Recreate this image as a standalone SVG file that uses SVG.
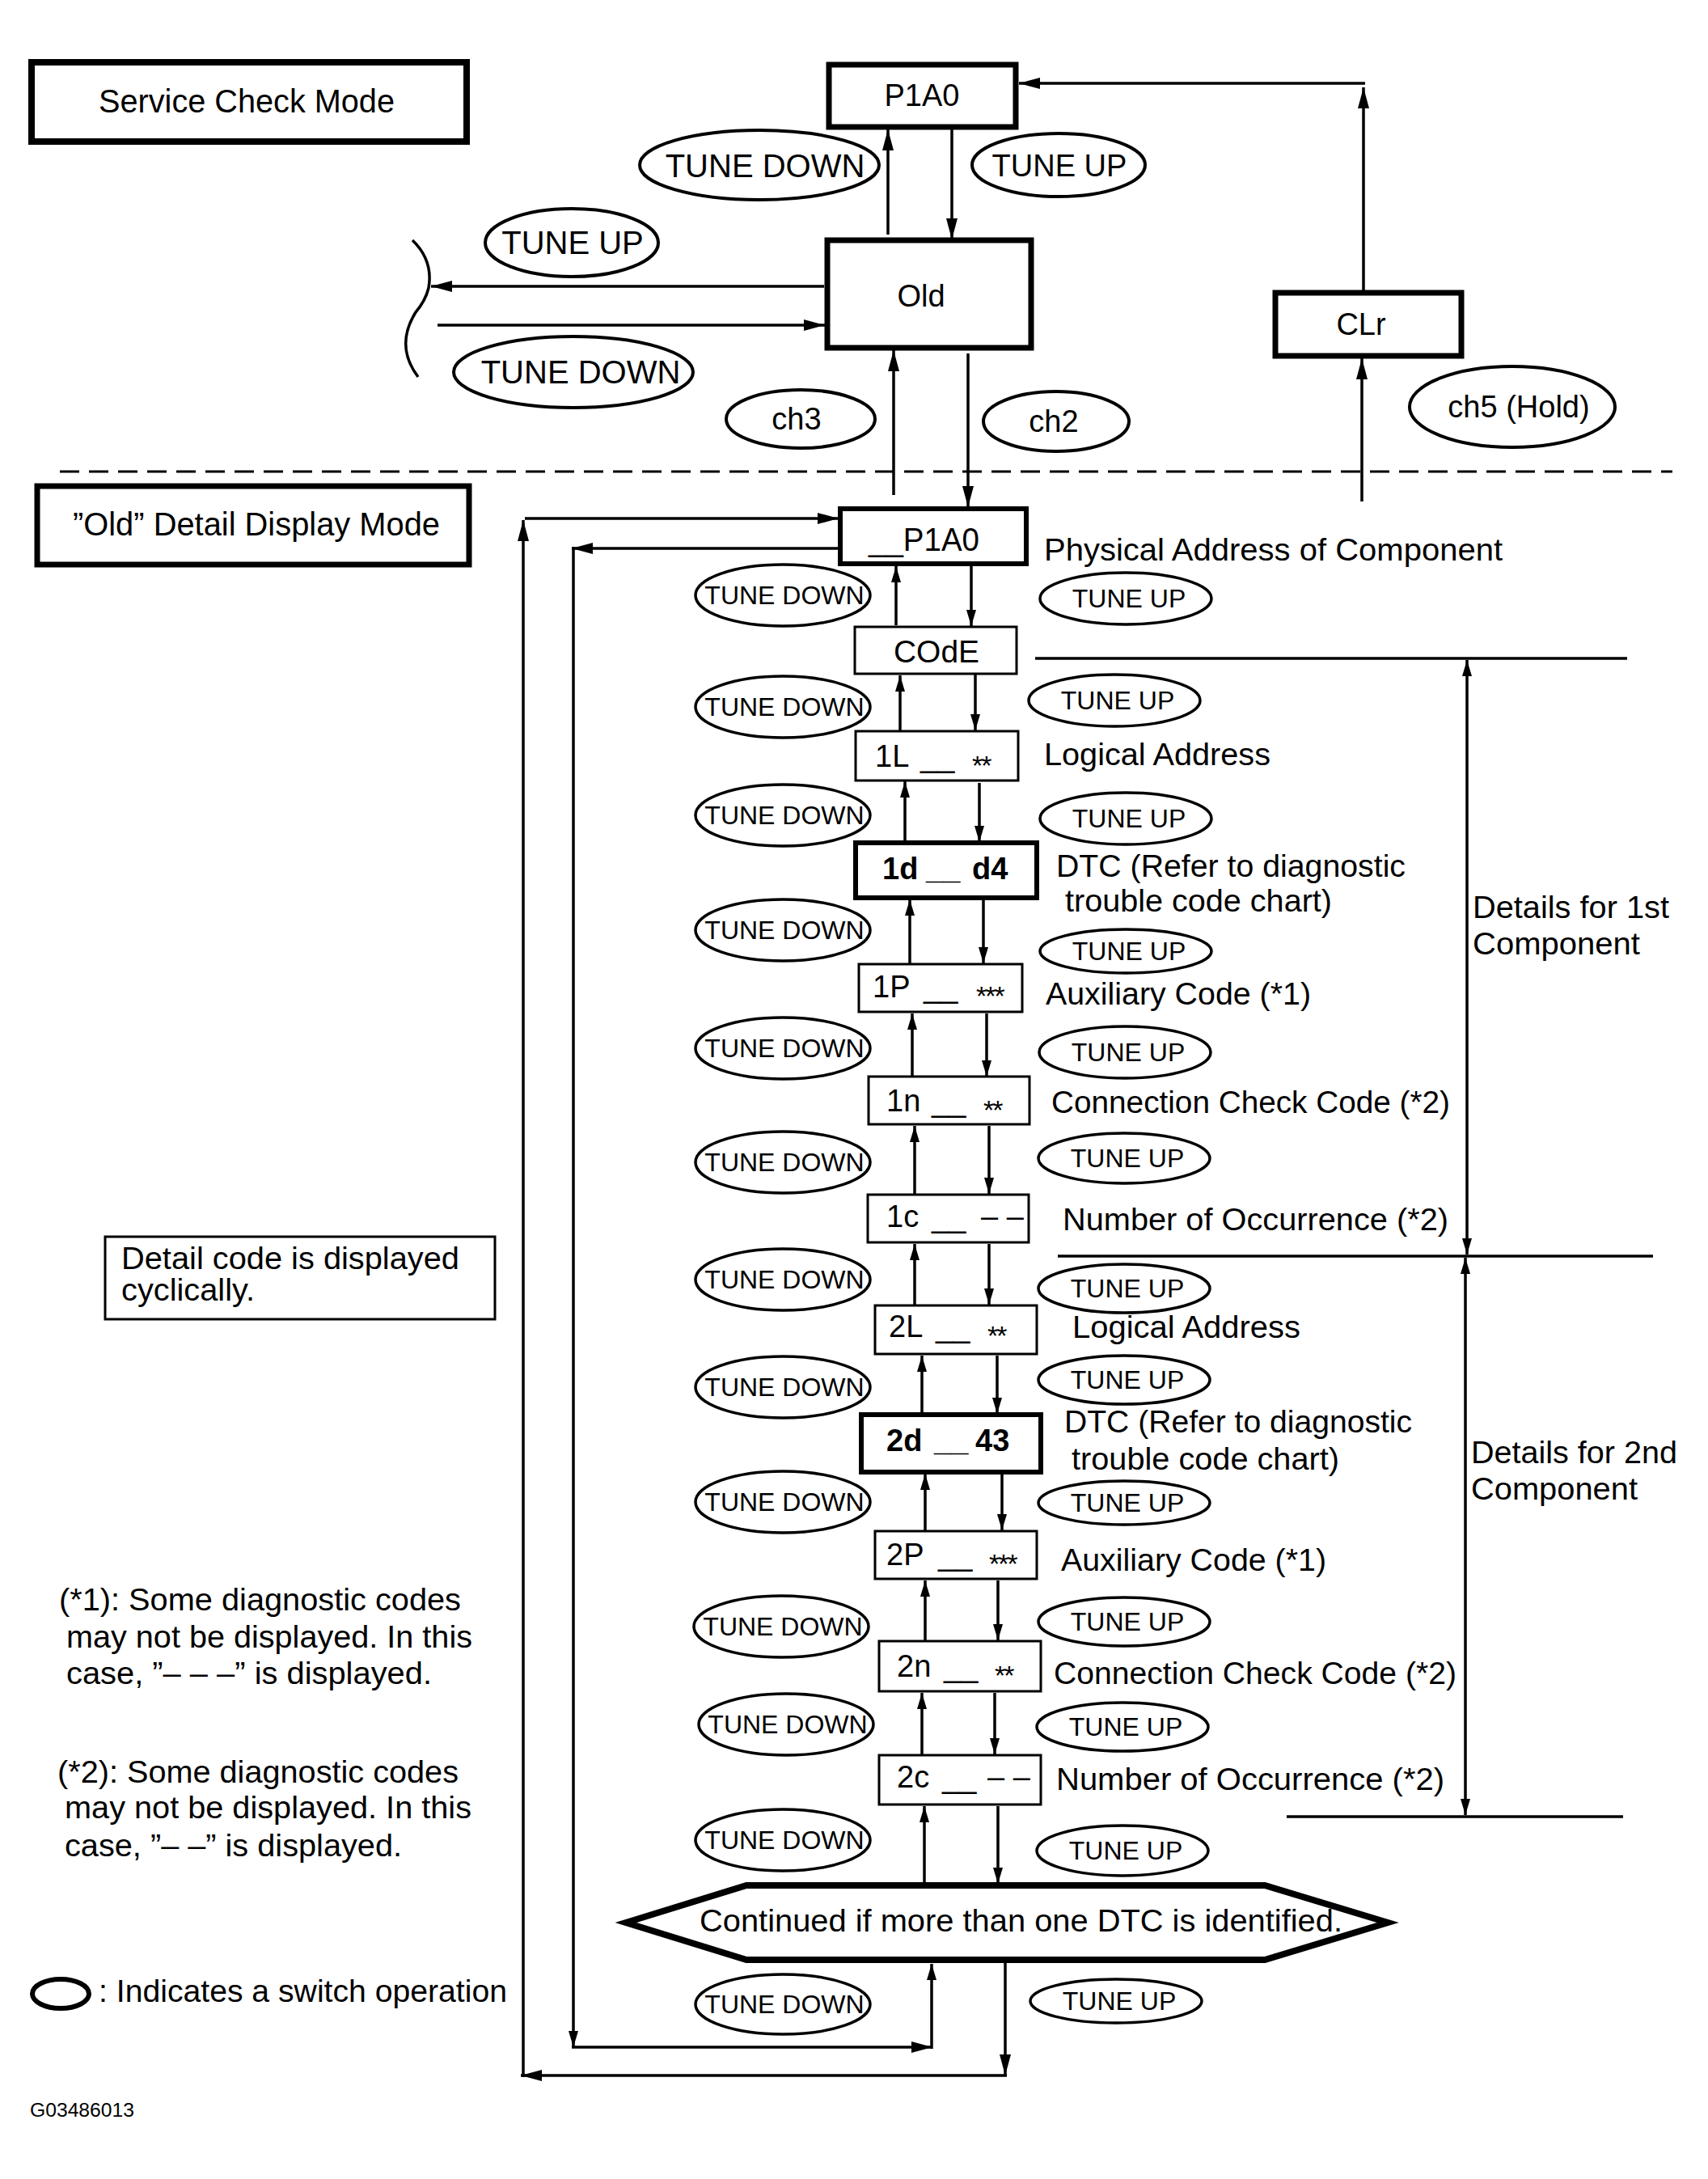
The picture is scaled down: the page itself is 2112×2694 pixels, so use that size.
<svg xmlns="http://www.w3.org/2000/svg" width="2112" height="2694" viewBox="0 0 2112 2694">
<style>
text{font-family:"Liberation Sans",Arial,Helvetica,sans-serif;fill:#000}
.bk{fill:#fff;stroke:#000;stroke-width:7}
.bm{fill:#fff;stroke:#000;stroke-width:6}
.bt{fill:#fff;stroke:#000;stroke-width:3}
.el{fill:#fff;stroke:#000;stroke-width:4}
.es{fill:#fff;stroke:#000;stroke-width:3.5}
.ln{fill:none;stroke:#000;stroke-width:3.5}
.a{marker-end:url(#ah)}
.A{marker-end:url(#AH)}
.f40{font-size:40px}
.f38{font-size:38px}
.f32{font-size:32px}
.lbl{font-size:38px}
.ast{font-size:34px;letter-spacing:-2px}
.bold{font-weight:bold}
.mid{text-anchor:middle}
</style>
<defs>
<marker id="ah" viewBox="0 0 20 12" refX="20" refY="6" markerWidth="20" markerHeight="12" markerUnits="userSpaceOnUse" orient="auto"><path d="M0,0 L20,6 L0,12 Z" fill="#000"/></marker>
<marker id="AH" viewBox="0 0 26 14" refX="26" refY="7" markerWidth="26" markerHeight="14" markerUnits="userSpaceOnUse" orient="auto"><path d="M0,0 L26,7 L0,14 Z" fill="#000"/></marker>
</defs>
<rect width="2112" height="2694" fill="#fff"/>

<!-- mode headings -->
<g id="service-check-mode">
<rect class="bk" x="39" y="77" width="538" height="98" style="stroke-width:8"/>
<text class="f40 mid" x="305" y="139" textLength="366" lengthAdjust="spacingAndGlyphs">Service Check Mode</text>
</g>
<g id="detail-display-mode">
<rect class="bk" x="46" y="601" width="534" height="97"/>
<text class="f40" x="90" y="662" textLength="454" lengthAdjust="spacingAndGlyphs">”Old” Detail Display Mode</text>
</g>

<!-- connectors -->
<g id="connectors">
<line class="ln A" x1="1098" y1="290" x2="1098" y2="160"/>
<line class="ln A" x1="1177" y1="157" x2="1177" y2="296"/>
<line class="ln A" x1="1019" y1="354" x2="533" y2="354"/>
<line class="ln A" x1="541" y1="402" x2="1020" y2="402"/>
<line class="ln A" x1="1197" y1="437" x2="1197" y2="627"/>
<line class="ln A" x1="1105" y1="612" x2="1105" y2="433"/>
<line class="ln A" x1="1684" y1="620" x2="1684" y2="443"/>
<line class="ln A" x1="1686" y1="362" x2="1686" y2="108"/>
<line class="ln A" x1="1688" y1="103" x2="1260" y2="103"/>
<path class="ln" d="M510 297 Q536 322 530 356 Q526 372 514 386 Q488 428 517 466"/>
<line x1="74" y1="583" x2="2068" y2="583" stroke="#000" stroke-width="3" stroke-dasharray="24 12"/>

<!-- outer loop -->
<line class="ln A" x1="1243" y1="2426" x2="1243" y2="2566"/>
<line class="ln A" x1="1245" y1="2566" x2="644" y2="2566"/>
<line class="ln A" x1="647" y1="2568" x2="647" y2="643"/>
<line class="ln A" x1="649" y1="641" x2="1037" y2="641"/>
<!-- inner loop -->
<line class="ln A" x1="1037" y1="678" x2="707" y2="678"/>
<line class="ln a" x1="709" y1="676" x2="709" y2="2531"/>
<line class="ln A" x1="707" y1="2531" x2="1153" y2="2531"/>
<line class="ln a" x1="1152" y1="2533" x2="1152" y2="2428"/>

<!-- chain -->
<line class="ln a" x1="1108" y1="773" x2="1108" y2="700"/>
<line class="ln a" x1="1201" y1="700" x2="1201" y2="774"/>
<line class="ln a" x1="1113" y1="903" x2="1113" y2="835"/>
<line class="ln a" x1="1206" y1="834" x2="1206" y2="903"/>
<line class="ln a" x1="1119" y1="1041" x2="1119" y2="966"/>
<line class="ln a" x1="1211" y1="968" x2="1211" y2="1041"/>
<line class="ln a" x1="1125" y1="1191" x2="1125" y2="1112"/>
<line class="ln a" x1="1216" y1="1112" x2="1216" y2="1191"/>
<line class="ln a" x1="1128" y1="1331" x2="1128" y2="1253"/>
<line class="ln a" x1="1220" y1="1253" x2="1220" y2="1331"/>
<line class="ln a" x1="1131" y1="1476" x2="1131" y2="1392"/>
<line class="ln a" x1="1223" y1="1392" x2="1223" y2="1476"/>
<line class="ln a" x1="1131" y1="1613" x2="1131" y2="1538"/>
<line class="ln a" x1="1223" y1="1538" x2="1223" y2="1613"/>
<line class="ln a" x1="1140" y1="1748" x2="1140" y2="1676"/>
<line class="ln a" x1="1233" y1="1676" x2="1233" y2="1748"/>
<line class="ln a" x1="1144" y1="1892" x2="1144" y2="1822"/>
<line class="ln a" x1="1239" y1="1822" x2="1239" y2="1892"/>
<line class="ln a" x1="1144" y1="2028" x2="1144" y2="1954"/>
<line class="ln a" x1="1234" y1="1954" x2="1234" y2="2028"/>
<line class="ln a" x1="1140" y1="2169" x2="1140" y2="2093"/>
<line class="ln a" x1="1230" y1="2093" x2="1230" y2="2169"/>
<line class="ln a" x1="1143" y1="2329" x2="1143" y2="2233"/>
<line class="ln a" x1="1234" y1="2233" x2="1234" y2="2329"/>

<!-- component brackets -->
<line class="ln" x1="1280" y1="814" x2="2012" y2="814"/>
<line class="ln a" x1="1814" y1="1180" x2="1814" y2="816"/>
<line class="ln a" x1="1814" y1="1180" x2="1814" y2="1551"/>
<line class="ln" x1="1308" y1="1553" x2="2044" y2="1553"/>
<line class="ln a" x1="1812" y1="1900" x2="1812" y2="1555"/>
<line class="ln a" x1="1812" y1="1900" x2="1812" y2="2244"/>
<line class="ln" x1="1591" y1="2246" x2="2007" y2="2246"/>
</g>

<!-- top nodes -->
<g id="node-p1a0">
<rect class="bk" x="1025" y="80" width="231" height="77"/>
<text class="f38 mid" x="1140" y="131">P1A0</text>
</g>
<g id="node-old">
<rect class="bk" x="1023" y="297" width="252" height="133"/>
<text class="f38 mid" x="1139" y="379">Old</text>
</g>
<g id="node-clr">
<rect class="bk" x="1577" y="362" width="230" height="78"/>
<text class="f38 mid" x="1683" y="414">CLr</text>
</g>
<g id="op-top-tune-down">
<ellipse class="el" cx="939" cy="204" rx="148" ry="43"/>
<text class="f40 mid" x="946" y="219">TUNE DOWN</text>
</g>
<g id="op-top-tune-up">
<ellipse class="el" cx="1309" cy="204" rx="107" ry="39"/>
<text class="f38 mid" x="1310" y="218">TUNE UP</text>
</g>
<g id="op-left-tune-up">
<ellipse class="el" cx="707" cy="300" rx="107" ry="42"/>
<text class="f40 mid" x="708" y="314">TUNE UP</text>
</g>
<g id="op-left-tune-down">
<ellipse class="el" cx="709" cy="460" rx="148" ry="44"/>
<text class="f40 mid" x="718" y="474">TUNE DOWN</text>
</g>
<g id="op-ch3">
<ellipse class="el" cx="990" cy="518" rx="92" ry="36"/>
<text class="f38 mid" x="985" y="531">ch3</text>
</g>
<g id="op-ch2">
<ellipse class="el" cx="1306" cy="521" rx="90" ry="37"/>
<text class="f38 mid" x="1303" y="534">ch2</text>
</g>
<g id="op-ch5">
<ellipse class="el" cx="1870" cy="503" rx="127" ry="50"/>
<text class="f38 mid" x="1878" y="516">ch5 (Hold)</text>
</g>

<!-- detail chain nodes -->
<g id="node-p1a0-detail">
<rect class="bm" x="1039" y="629" width="230" height="68"/>
<text class="f40" x="1074" y="681" textLength="137" lengthAdjust="spacingAndGlyphs">__P1A0</text>
<text class="f38" x="1291" y="693" textLength="567" lengthAdjust="spacingAndGlyphs">Physical Address of Component</text>
</g>
<g id="node-code">
<rect class="bt" x="1057" y="775" width="200" height="58"/>
<text class="f38" x="1105" y="819" textLength="106" lengthAdjust="spacingAndGlyphs">COdE</text>
</g>
<g id="node-1l">
<rect class="bt" x="1058" y="904" width="201" height="61"/>
<text class="lbl" y="948"><tspan x="1082">1L</tspan><tspan x="1138">__</tspan><tspan class="ast" x="1202" dy="10">**</tspan></text>
<text class="f38" x="1291" y="946" textLength="280" lengthAdjust="spacingAndGlyphs">Logical Address</text>
</g>
<g id="node-1d">
<rect class="bm" x="1058" y="1042" width="224" height="68"/>
<text class="lbl bold" y="1087"><tspan x="1091">1d</tspan><tspan x="1145">__</tspan><tspan x="1202">d4</tspan></text>
<text class="f38" x="1306" y="1084" textLength="432" lengthAdjust="spacingAndGlyphs">DTC (Refer to diagnostic</text>
<text class="f38" x="1317" y="1127" textLength="330" lengthAdjust="spacingAndGlyphs">trouble code chart)</text>
</g>
<g id="node-1p">
<rect class="bt" x="1062" y="1192" width="202" height="59"/>
<text class="lbl" y="1233"><tspan x="1079">1P</tspan><tspan x="1142">__</tspan><tspan class="ast" x="1207" dy="10">***</tspan></text>
<text class="f38" x="1293" y="1242" textLength="328" lengthAdjust="spacingAndGlyphs">Auxiliary Code (*1)</text>
</g>
<g id="node-1n">
<rect class="bt" x="1074" y="1331" width="199" height="59"/>
<text class="lbl" y="1374"><tspan x="1096">1n</tspan><tspan x="1152">__</tspan><tspan class="ast" x="1216" dy="10">**</tspan></text>
<text class="f38" x="1300" y="1376" textLength="493" lengthAdjust="spacingAndGlyphs">Connection Check Code (*2)</text>
</g>
<g id="node-1c">
<rect class="bt" x="1073" y="1477" width="199" height="59"/>
<text class="lbl" y="1517"><tspan x="1096">1c</tspan><tspan x="1152">__</tspan><tspan x="1213">– –</tspan></text>
<text class="f38" x="1314" y="1521" textLength="477" lengthAdjust="spacingAndGlyphs">Number of Occurrence  (*2)</text>
</g>
<g id="node-2l">
<rect class="bt" x="1082" y="1614" width="200" height="60"/>
<text class="lbl" y="1653"><tspan x="1099">2L</tspan><tspan x="1157">__</tspan><tspan class="ast" x="1221" dy="10">**</tspan></text>
<text class="f38" x="1326" y="1654" textLength="282" lengthAdjust="spacingAndGlyphs">Logical Address</text>
</g>
<g id="node-2d">
<rect class="bm" x="1065" y="1749" width="222" height="71"/>
<text class="lbl bold" y="1794"><tspan x="1096">2d</tspan><tspan x="1155">__</tspan><tspan x="1206">43</tspan></text>
<text class="f38" x="1316" y="1771" textLength="430" lengthAdjust="spacingAndGlyphs">DTC (Refer to diagnostic</text>
<text class="f38" x="1325" y="1817" textLength="331" lengthAdjust="spacingAndGlyphs">trouble code chart)</text>
</g>
<g id="node-2p">
<rect class="bt" x="1082" y="1893" width="200" height="59"/>
<text class="lbl" y="1935"><tspan x="1096">2P</tspan><tspan x="1160">__</tspan><tspan class="ast" x="1223" dy="10">***</tspan></text>
<text class="f38" x="1312" y="1942" textLength="328" lengthAdjust="spacingAndGlyphs">Auxiliary Code  (*1)</text>
</g>
<g id="node-2n">
<rect class="bt" x="1087" y="2029" width="200" height="62"/>
<text class="lbl" y="2073"><tspan x="1109">2n</tspan><tspan x="1167">__</tspan><tspan class="ast" x="1230" dy="10">**</tspan></text>
<text class="f38" x="1303" y="2082" textLength="498" lengthAdjust="spacingAndGlyphs">Connection Check Code (*2)</text>
</g>
<g id="node-2c">
<rect class="bt" x="1087" y="2170" width="200" height="61"/>
<text class="lbl" y="2210"><tspan x="1109">2c</tspan><tspan x="1165">__</tspan><tspan x="1221">– –</tspan></text>
<text class="f38" x="1306" y="2213" textLength="480" lengthAdjust="spacingAndGlyphs">Number of Occurrence  (*2)</text>
</g>
<g id="node-continued">
<polygon points="774,2377 923,2331 1564,2331 1716,2377 1564,2423 923,2423" fill="#fff" stroke="#000" stroke-width="8" stroke-linejoin="miter"/>
<text class="f38" x="865" y="2388" textLength="795" lengthAdjust="spacingAndGlyphs">Continued if more than one DTC is identified.</text>
</g>

<!-- component labels -->
<g id="label-1st">
<text class="f38" x="1821" y="1135" textLength="243" lengthAdjust="spacingAndGlyphs">Details for 1st</text>
<text class="f38" x="1821" y="1180" textLength="207" lengthAdjust="spacingAndGlyphs">Component</text>
</g>
<g id="label-2nd">
<text class="f38" x="1819" y="1809" textLength="255" lengthAdjust="spacingAndGlyphs">Details for 2nd</text>
<text class="f38" x="1819" y="1854" textLength="206" lengthAdjust="spacingAndGlyphs">Component</text>
</g>

<!-- TUNE DOWN ops -->
<g id="ops-tune-down">
<ellipse class="es" cx="968" cy="736" rx="108" ry="38"/><text class="f32 mid" x="970" y="747">TUNE DOWN</text>
<ellipse class="es" cx="968" cy="874" rx="108" ry="38"/><text class="f32 mid" x="970" y="885">TUNE DOWN</text>
<ellipse class="es" cx="968" cy="1008" rx="108" ry="38"/><text class="f32 mid" x="970" y="1019">TUNE DOWN</text>
<ellipse class="es" cx="968" cy="1150" rx="108" ry="38"/><text class="f32 mid" x="970" y="1161">TUNE DOWN</text>
<ellipse class="es" cx="968" cy="1296" rx="108" ry="38"/><text class="f32 mid" x="970" y="1307">TUNE DOWN</text>
<ellipse class="es" cx="968" cy="1437" rx="108" ry="38"/><text class="f32 mid" x="970" y="1448">TUNE DOWN</text>
<ellipse class="es" cx="968" cy="1582" rx="108" ry="38"/><text class="f32 mid" x="970" y="1593">TUNE DOWN</text>
<ellipse class="es" cx="968" cy="1715" rx="108" ry="38"/><text class="f32 mid" x="970" y="1726">TUNE DOWN</text>
<ellipse class="es" cx="968" cy="1857" rx="108" ry="38"/><text class="f32 mid" x="970" y="1868">TUNE DOWN</text>
<ellipse class="es" cx="966" cy="2011" rx="108" ry="38"/><text class="f32 mid" x="968" y="2022">TUNE DOWN</text>
<ellipse class="es" cx="972" cy="2132" rx="108" ry="38"/><text class="f32 mid" x="974" y="2143">TUNE DOWN</text>
<ellipse class="es" cx="968" cy="2275" rx="108" ry="38"/><text class="f32 mid" x="970" y="2286">TUNE DOWN</text>
<ellipse class="es" cx="968" cy="2478" rx="108" ry="37"/><text class="f32 mid" x="970" y="2489">TUNE DOWN</text>
</g>

<!-- TUNE UP ops -->
<g id="ops-tune-up">
<ellipse class="es" cx="1392" cy="740" rx="106" ry="32"/><text class="f32 mid" x="1396" y="751">TUNE UP</text>
<ellipse class="es" cx="1378" cy="866" rx="106" ry="32"/><text class="f32 mid" x="1382" y="877">TUNE UP</text>
<ellipse class="es" cx="1392" cy="1012" rx="106" ry="32"/><text class="f32 mid" x="1396" y="1023">TUNE UP</text>
<ellipse class="es" cx="1392" cy="1176" rx="106" ry="27"/><text class="f32 mid" x="1396" y="1187">TUNE UP</text>
<ellipse class="es" cx="1391" cy="1301" rx="106" ry="32"/><text class="f32 mid" x="1395" y="1312">TUNE UP</text>
<ellipse class="es" cx="1390" cy="1432" rx="106" ry="31"/><text class="f32 mid" x="1394" y="1443">TUNE UP</text>
<ellipse class="es" cx="1390" cy="1593" rx="106" ry="30"/><text class="f32 mid" x="1394" y="1604">TUNE UP</text>
<ellipse class="es" cx="1390" cy="1706" rx="106" ry="30"/><text class="f32 mid" x="1394" y="1717">TUNE UP</text>
<ellipse class="es" cx="1390" cy="1858" rx="106" ry="27"/><text class="f32 mid" x="1394" y="1869">TUNE UP</text>
<ellipse class="es" cx="1390" cy="2005" rx="106" ry="30"/><text class="f32 mid" x="1394" y="2016">TUNE UP</text>
<ellipse class="es" cx="1388" cy="2135" rx="106" ry="30"/><text class="f32 mid" x="1392" y="2146">TUNE UP</text>
<ellipse class="es" cx="1388" cy="2288" rx="106" ry="31"/><text class="f32 mid" x="1392" y="2299">TUNE UP</text>
<ellipse class="es" cx="1380" cy="2474" rx="106" ry="27"/><text class="f32 mid" x="1384" y="2485">TUNE UP</text>
</g>

<!-- notes -->
<g id="note-cyclic">
<rect class="bt" x="130" y="1529" width="482" height="102"/>
<text class="f38" x="150" y="1569" textLength="418" lengthAdjust="spacingAndGlyphs">Detail code is displayed</text>
<text class="f38" x="150" y="1608" textLength="165" lengthAdjust="spacingAndGlyphs">cyclically.</text>
</g>
<g id="note-1">
<text class="f38" x="73" y="1991" textLength="497" lengthAdjust="spacingAndGlyphs">(*1): Some diagnostic codes</text>
<text class="f38" x="82" y="2037" textLength="502" lengthAdjust="spacingAndGlyphs">may not be displayed. In this</text>
<text class="f38" x="82" y="2082" textLength="452" lengthAdjust="spacingAndGlyphs">case, ”– – –” is displayed.</text>
</g>
<g id="note-2">
<text class="f38" x="71" y="2204" textLength="496" lengthAdjust="spacingAndGlyphs">(*2): Some diagnostic codes</text>
<text class="f38" x="80" y="2248" textLength="503" lengthAdjust="spacingAndGlyphs">may not be displayed. In this</text>
<text class="f38" x="80" y="2295" textLength="417" lengthAdjust="spacingAndGlyphs">case, ”– –” is displayed.</text>
</g>
<g id="legend">
<ellipse cx="75" cy="2465" rx="35" ry="18" fill="#fff" stroke="#000" stroke-width="6"/>
<text class="f38" x="122" y="2475" textLength="505" lengthAdjust="spacingAndGlyphs">: Indicates a switch operation</text>
</g>
<text x="37" y="2617" font-size="24" textLength="129" lengthAdjust="spacingAndGlyphs">G03486013</text>
</svg>
